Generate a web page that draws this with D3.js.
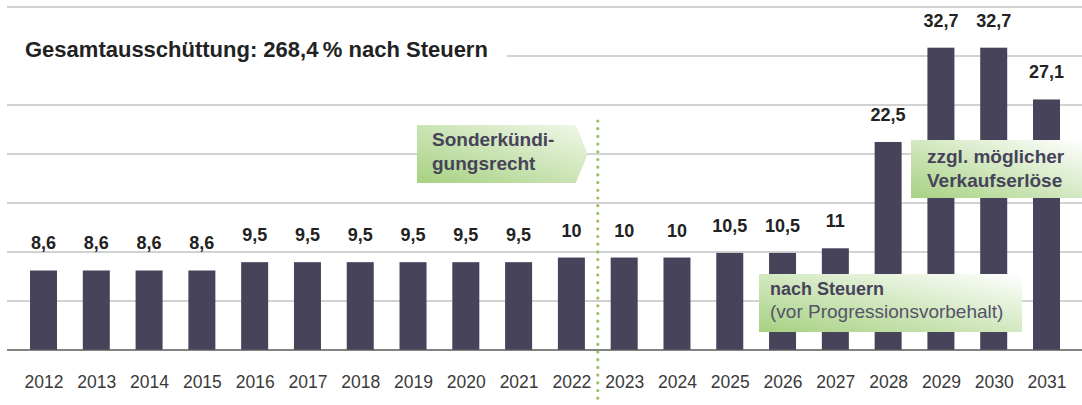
<!DOCTYPE html>
<html>
<head>
<meta charset="utf-8">
<script src="https://cdn.jsdelivr.net/npm/d3@7"></script>
<style>
  body { margin: 0; background: #fff; }
  text { font-family: "Liberation Sans", Arial, sans-serif; }
</style>
</head>
<body>
<script>
var years = ["2012", "2013", "2014", "2015", "2016", "2017", "2018", "2019", "2020", "2021",
  "2022", "2023", "2024", "2025", "2026", "2027", "2028", "2029", "2030", "2031"];
var values = [8.6, 8.6, 8.6, 8.6, 9.5, 9.5, 9.5, 9.5, 9.5, 9.5,
  10, 10, 10, 10.5, 10.5, 11, 22.5, 32.7, 32.7, 27.1];
var valueLabels = ["8,6", "8,6", "8,6", "8,6", "9,5", "9,5", "9,5", "9,5", "9,5", "9,5",
  "10", "10", "10", "10,5", "10,5", "11", "22,5", "32,7", "32,7", "27,1"];
var title = "Gesamtausschüttung: 268,4\u2009% nach Steuern";
var noteSonder = ["Sonderkündi-", "gungsrecht"];
var noteSteuern = ["nach Steuern", "(vor Progressionsvorbehalt)"];
var noteVerkauf = ["zzgl. möglicher", "Verkaufserlöse"];

var width = 1082, height = 405;
var barColor = "#47435a";

var svg = d3.select("body").append("svg")
  .attr("width", width)
  .attr("height", height);

var defs = svg.append("defs");
function greenGradient(id, dark, light) {
  var g = defs.append("linearGradient")
    .attr("id", id)
    .attr("x1", "0%").attr("y1", "100%")
    .attr("x2", "100%").attr("y2", "0%");
  g.append("stop").attr("offset", "0%").attr("stop-color", dark);
  g.append("stop").attr("offset", "100%").attr("stop-color", light);
}
greenGradient("gSonder", "#a6d181", "#f1f7ea");
greenGradient("gSteuern", "#a6d181", "#ffffff");
greenGradient("gVerkauf", "#a6d181", "#ffffff");

var x = d3.scalePoint()
  .domain(years)
  .range([43.5, 1046.5]);
var barWidth = 27;

var y = d3.scaleLinear()
  .domain([0, 37.1])
  .range([350, 7]);

// grid lines
var gridTicks = d3.range(1, 8).map(function(i) { return i * 37.1 / 7; });
svg.append("g")
  .selectAll("line")
  .data(gridTicks)
  .enter().append("line")
  .attr("x1", 7)
  .attr("x2", width)
  .attr("y1", function(d) { return y(d); })
  .attr("y2", function(d) { return y(d); })
  .attr("stroke", "#c3c3c3")
  .attr("stroke-width", 1.5);

// title with white backing
svg.append("rect")
  .attr("x", 7).attr("y", 30)
  .attr("width", 500).attr("height", 40)
  .attr("fill", "#fff");
svg.append("text")
  .attr("x", 25)
  .attr("y", 57)
  .attr("font-size", 22)
  .attr("font-weight", "bold")
  .attr("fill", "#222")
  .text(title);

// bars
svg.append("g")
  .selectAll("rect")
  .data(values)
  .enter().append("rect")
  .attr("x", function(d, i) { return x(years[i]) - barWidth / 2; })
  .attr("y", function(d) { return y(d); })
  .attr("width", barWidth)
  .attr("height", function(d) { return y(0) - y(d); })
  .attr("fill", barColor);

// baseline
svg.append("line")
  .attr("x1", 7).attr("x2", width)
  .attr("y1", y(0)).attr("y2", y(0))
  .attr("stroke", "#5a5a5a")
  .attr("stroke-width", 1.5);

// value labels
svg.append("g")
  .selectAll("text")
  .data(values)
  .enter().append("text")
  .attr("x", function(d, i) { return x(years[i]); })
  .attr("y", function(d) { return y(d) - 21; })
  .attr("text-anchor", "middle")
  .attr("font-size", 18)
  .attr("font-weight", "bold")
  .attr("fill", "#222")
  .text(function(d, i) { return valueLabels[i]; });

// x axis labels
var xAxis = d3.axisBottom(x).tickSize(0).tickPadding(0);
var axisG = svg.append("g")
  .attr("transform", "translate(0," + 376 + ")")
  .call(xAxis);
axisG.select(".domain").remove();
axisG.selectAll("text")
  .attr("font-family", "Liberation Sans, Arial, sans-serif")
  .attr("font-size", 17.5)
  .attr("fill", "#3a3a3a")
  .attr("dy", "0.71em");

// dotted separator between 2022 and 2023
var sepX = (x("2022") + x("2023")) / 2;
svg.append("line")
  .attr("x1", sepX).attr("x2", sepX)
  .attr("y1", 121).attr("y2", height)
  .attr("stroke", "#93c163")
  .attr("stroke-width", 3.2)
  .attr("stroke-linecap", "round")
  .attr("stroke-dasharray", "0 7.7");

// callout: Sonderkündigungsrecht (arrow pointing right)
var sTip = sepX - 10;
svg.append("polygon")
  .attr("points", [[417, 125], [sTip - 12, 125], [sTip, 154], [sTip - 12, 183], [417, 183]].join(" "))
  .attr("fill", "url(#gSonder)");
svg.append("text")
  .attr("font-size", 19)
  .attr("font-weight", "bold")
  .attr("fill", barColor)
  .selectAll("tspan")
  .data(noteSonder)
  .enter().append("tspan")
  .attr("x", 432)
  .attr("y", function(d, i) { return 146 + i * 24; })
  .text(function(d) { return d; });

// callout: nach Steuern
svg.append("rect")
  .attr("x", 759).attr("y", 274)
  .attr("width", 263).attr("height", 58)
  .attr("fill", "url(#gSteuern)");
svg.append("text")
  .attr("x", 770).attr("y", 295)
  .attr("font-size", 18)
  .attr("font-weight", "bold")
  .attr("fill", barColor)
  .text(noteSteuern[0]);
svg.append("text")
  .attr("x", 770).attr("y", 318)
  .attr("font-size", 19)
  .attr("fill", "#55526a")
  .text(noteSteuern[1]);

// callout: zzgl. möglicher Verkaufserlöse
svg.append("rect")
  .attr("x", 911).attr("y", 140)
  .attr("width", width - 911).attr("height", 58)
  .attr("fill", "url(#gVerkauf)");
svg.append("text")
  .attr("font-size", 19)
  .attr("font-weight", "bold")
  .attr("fill", barColor)
  .selectAll("tspan")
  .data(noteVerkauf)
  .enter().append("tspan")
  .attr("x", 927)
  .attr("y", function(d, i) { return 163 + i * 24; })
  .text(function(d) { return d; });
</script>
</body>
</html>
